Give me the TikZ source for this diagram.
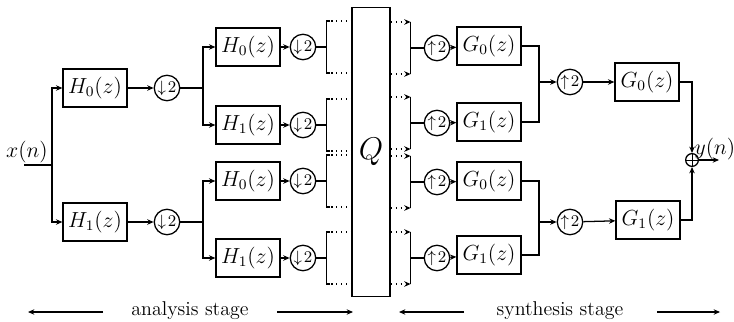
\documentclass[tikz,border=0pt]{standalone}
\usepackage{amsmath,amssymb}
\usepackage{xcolor}
\usepackage{tikz}
\usetikzlibrary{positioning, arrows.meta}

\begin{document}
\begin{tikzpicture}[x=0.55pt, y=-0.55pt, >={Stealth[length=3.5pt, width=3pt]}, line width=0.7pt,
    filt/.style={draw, line width=0.9pt, minimum width=35pt, minimum height=21pt, inner sep=1pt, font=\large},
    rate/.style={draw, circle, minimum size=14pt, inner sep=0pt, font=\small},
    adder/.style={draw, circle, minimum size=7pt, inner sep=0pt}]
    \useasboundingbox (0,0) rectangle (734,321);

    % analysis stage
    \node[font=\large] (xn) at (27,152) {$x(n)$};
    \coordinate (src) at (24,165);
    \coordinate (s1)  at (52,165);
    \node[filt] (H0)  at (95,88)  {$H_0(z)$};
    \node[filt] (H1)  at (95,222) {$H_1(z)$};
    \node[rate] (d0)  at (167,88)  {$\downarrow\!2$};
    \node[rate] (d1)  at (167,222) {$\downarrow\!2$};
    \coordinate (s2a) at (203,88);
    \coordinate (s2b) at (203,222);
    \node[filt] (H00) at (248,47)  {$H_0(z)$};
    \node[filt] (H01) at (248,125) {$H_1(z)$};
    \node[filt] (H10) at (248,181) {$H_0(z)$};
    \node[filt] (H11) at (248,258) {$H_1(z)$};
    \node[rate] (d00) at (303,47)  {$\downarrow\!2$};
    \node[rate] (d01) at (303,125) {$\downarrow\!2$};
    \node[rate] (d10) at (303,181) {$\downarrow\!2$};
    \node[rate] (d11) at (303,258) {$\downarrow\!2$};

    \node[draw, line width=0.9pt, minimum width=21pt, minimum height=159pt] (Q) at (371,152) {\LARGE $Q$};

    % synthesis stage
    \node[rate] (u00) at (437,48)  {$\uparrow\!2$};
    \node[rate] (u01) at (437,123) {$\uparrow\!2$};
    \node[rate] (u10) at (437,182) {$\uparrow\!2$};
    \node[rate] (u11) at (437,258) {$\uparrow\!2$};
    \node[filt] (G00) at (489,46)  {$G_0(z)$};
    \node[filt] (G01) at (489,122) {$G_1(z)$};
    \node[filt] (G10) at (489,181) {$G_0(z)$};
    \node[filt] (G11) at (489,255) {$G_1(z)$};
    \coordinate (m0) at (539,82);
    \coordinate (m1) at (539,222);
    \node[rate] (u0)  at (570,82)  {$\uparrow\!2$};
    \node[rate] (u1)  at (570,222) {$\uparrow\!2$};
    \node[filt] (G0)  at (647,82)  {$G_0(z)$};
    \node[filt] (G1)  at (648,220) {$G_1(z)$};
    \node[adder] (add) at (692,160) {};
    \draw[line width=0.5pt] (add.north) -- (add.south) (add.west) -- (add.east);
    \coordinate (yout) at (719,160);
    \node[font=\large] (yn) at (715,149) {$y(n)$};

    \draw (src) -- (s1);
    \draw[->] (s1) |- (H0.west);
    \draw[->] (s1) |- (H1.west);
    \draw[->] (H0) -- (d0);
    \draw[->] (H1) -- (d1);
    \draw (d0) -- (s2a);
    \draw (d1) -- (s2b);
    \draw[->] (s2a) |- (H00.west);
    \draw[->] (s2a) |- (H01.west);
    \draw[->] (s2b) |- (H10.west);
    \draw[->] (s2b) |- (H11.west);
    \foreach \h/\d in {H00/d00, H01/d01, H10/d10, H11/d11} {
        \draw[->] (\h) -- (\d);
        \draw (\d.east) -- ++(10,0) ++(0,-26) coordinate (t) -- ++(0,52) coordinate (b);
        \draw (t) -- ++(4,0);
        \draw (b) -- ++(4,0);
        \draw[dotted] (t) -- (t -| Q.west);
        \draw[dotted] (b) -- (b -| Q.west);
    }
    \foreach \u/\g in {u00/G00, u01/G01, u10/G10, u11/G11} {
        \draw[->] (\u) -- (\g);
        \draw (\u.west) -- ++(-13,0) ++(0,-26) coordinate (t) -- ++(0,52) coordinate (b);
        \draw[dotted, ->] (t -| Q.east) -- (t);
        \draw[dotted, ->] (b -| Q.east) -- (b);
    }
    \draw (G00.east) -| (m0);
    \draw (G01.east) -| (m0);
    \draw (G10.east) -| (m1);
    \draw (G11.east) -| (m1);
    \draw[->] (m0) -- (u0);
    \draw[->] (m1) -- (u1);
    \draw[->] (u0) -- (G0);
    \draw[->] (u1) -- (G1);
    \draw[->] (G0.east) -| (add.north);
    \draw[->] (G1.east) -| (add.south);
    \draw[->] (add.east) -- (yout);

    % stage labels
    \node[font=\fontsize{11}{13}\selectfont] (ana) at (190,311) {analysis stage};
    \node[font=\fontsize{11}{13}\selectfont] (syn) at (560,311) {synthesis stage};
    \coordinate (a1) at (28,312);  \coordinate (a2) at (103,312);
    \coordinate (a3) at (277,312); \coordinate (a4) at (353,312);
    \coordinate (b1) at (399,312); \coordinate (b2) at (464,312);
    \coordinate (b3) at (657,312); \coordinate (b4) at (720,312);
    \draw[->] (a2) -- (a1);
    \draw[->] (a3) -- (a4);
    \draw[->] (b2) -- (b1);
    \draw[->] (b3) -- (b4);
\end{tikzpicture}
\end{document}
